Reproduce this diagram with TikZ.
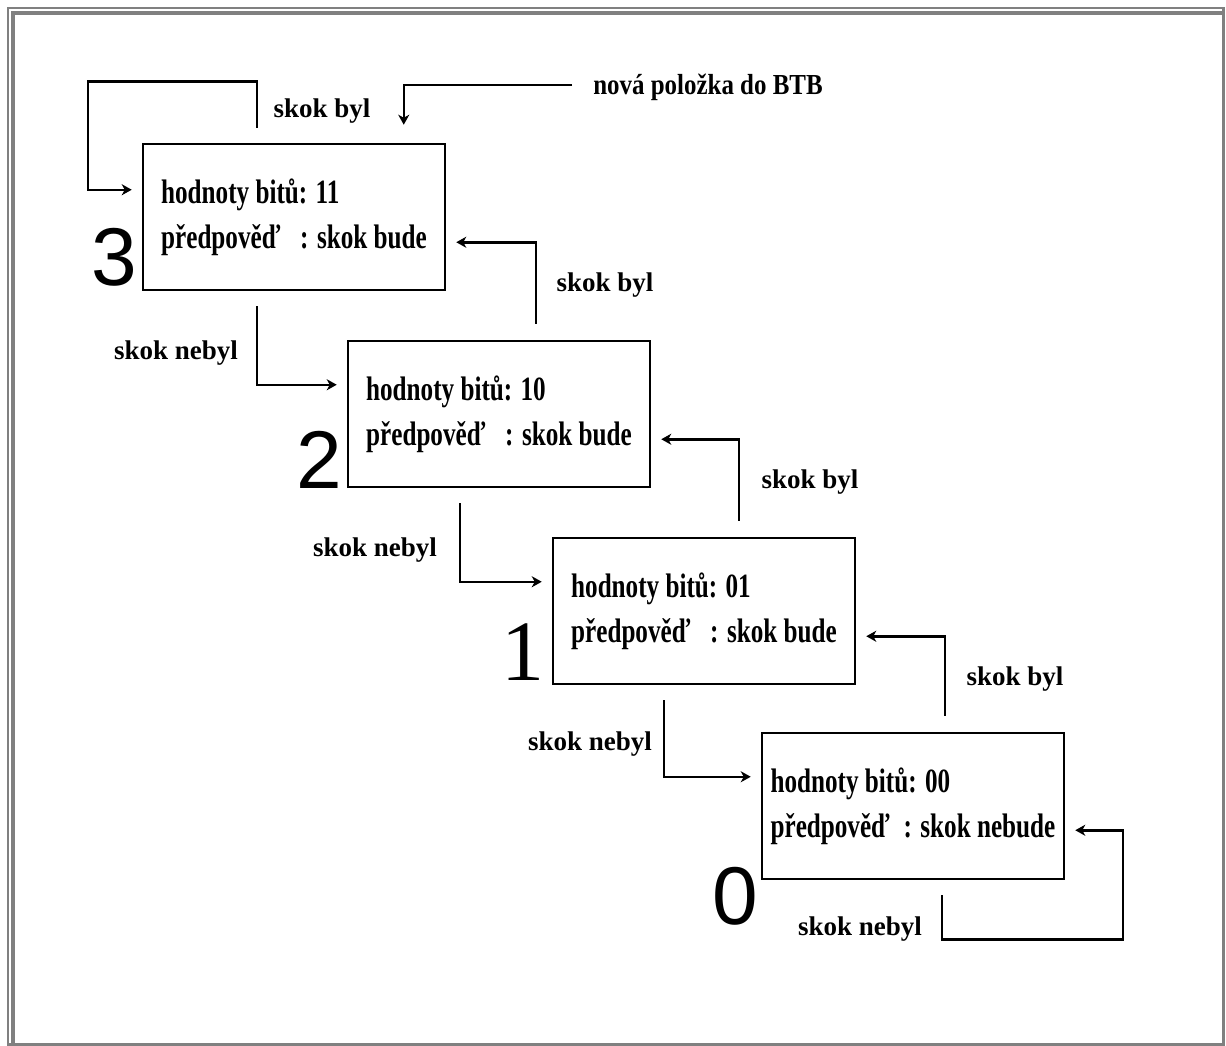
\documentclass[tikz,border=0pt]{standalone}
\usepackage{fontspec}
\setmainfont{Liberation Serif}
\newfontfamily\boxfont[FakeStretch=0.74]{Liberation Serif}
\newfontfamily\btbfont[FakeStretch=0.86]{Liberation Serif}
\newfontfamily\numfont{Liberation Sans}
\usepackage{tikz}
\usetikzlibrary{arrows.meta}

\begin{document}
\begin{tikzpicture}[
    x=1pt, y=-1pt,
    font=\fontsize{27}{32}\selectfont\bfseries,
    >={Stealth[length=10pt, width=11pt, inset=3pt]}, line width=2.5pt,
    stav/.style={draw, line width=2.5pt, minimum width=302pt, minimum height=146pt,
        inner sep=0pt, align=left, font=\boxfont\fontsize{34}{45}\selectfont\bfseries},
    cislo/.style={font=\numfont\fontsize{82}{82}\selectfont, inner sep=0pt},
    popis/.style={anchor=base, inner sep=0pt}
]

\useasboundingbox (0,0) rectangle (1226,1046);
\draw[gray, line width=2.5pt] (8,8) rectangle (1223.5,1044.5);
\draw[gray, line width=4pt] (13,1043) -- (13,13) -- (1222,13);

\node[stav] (s3) at (294,217) {hodnoty bitů: 11\\předpověď\hspace{20pt}: skok bude};
\node[stav] (s2) at (499,414) {hodnoty bitů: 10\\předpověď\hspace{20pt}: skok bude};
\node[stav] (s1) at (704,611) {hodnoty bitů: 01\\předpověď\hspace{20pt}: skok bude};
\node[stav] (s0) at (913,806) {hodnoty bitů: 00\\předpověď\hspace{14pt}: skok nebude};

\node[cislo] (n3) at (114,257) {3};
\node[cislo] (n2) at (319,460) {2};
\node[cislo, font=\mdseries\fontsize{86}{86}\selectfont] (n1) at (523,652) {1};
\node[cislo] (n0) at (735,896) {0};

\node[popis, font=\btbfont\fontsize{29}{32}\selectfont\bfseries] (nova) at (708,95) {nová položka do BTB};
\node[popis] (by3) at (322,118) {skok byl};
\node[popis] (by2) at (605,291) {skok byl};
\node[popis] (by1) at (810,488) {skok byl};
\node[popis] (by0) at (1015,685) {skok byl};
\node[popis] (ne3) at (176,359) {skok nebyl};
\node[popis] (ne2) at (375,556) {skok nebyl};
\node[popis] (ne1) at (590,750) {skok nebyl};
\node[popis] (ne0) at (860,935) {skok nebyl};

\draw[->] ([xshift=-20pt, yshift=10pt]nova.base west) -| ([xshift=262pt, yshift=18pt]s3.north west);

\draw[->] ([xshift=115pt, yshift=15pt]s3.north west) |- ++(-169,-46) |- ([xshift=-10pt, yshift=-47pt]s3.north west);

\draw[->] ([xshift=115pt, yshift=-15pt]s3.south west) |- ([xshift=-10pt, yshift=-45pt]s2.north west);
\draw[->] ([xshift=113pt, yshift=-15pt]s2.south west) |- ([xshift=-10pt, yshift=-45pt]s1.north west);
\draw[->] ([xshift=112pt, yshift=-15pt]s1.south west) |- ([xshift=-10pt, yshift=-45pt]s0.north west);

\draw[->] ([xshift=189pt, yshift=16pt]s2.north west) |- ([xshift=10pt, yshift=49pt]s3.south east);
\draw[->] ([xshift=187pt, yshift=16pt]s1.north west) |- ([xshift=10pt, yshift=49pt]s2.south east);
\draw[->] ([xshift=184pt, yshift=16pt]s0.north west) |- ([xshift=10pt, yshift=49pt]s1.south east);

\draw[->] ([xshift=181pt, yshift=-15pt]s0.south west) |- ++(181,44) |- ([xshift=10pt, yshift=50pt]s0.south east);

\end{tikzpicture}
\end{document}
